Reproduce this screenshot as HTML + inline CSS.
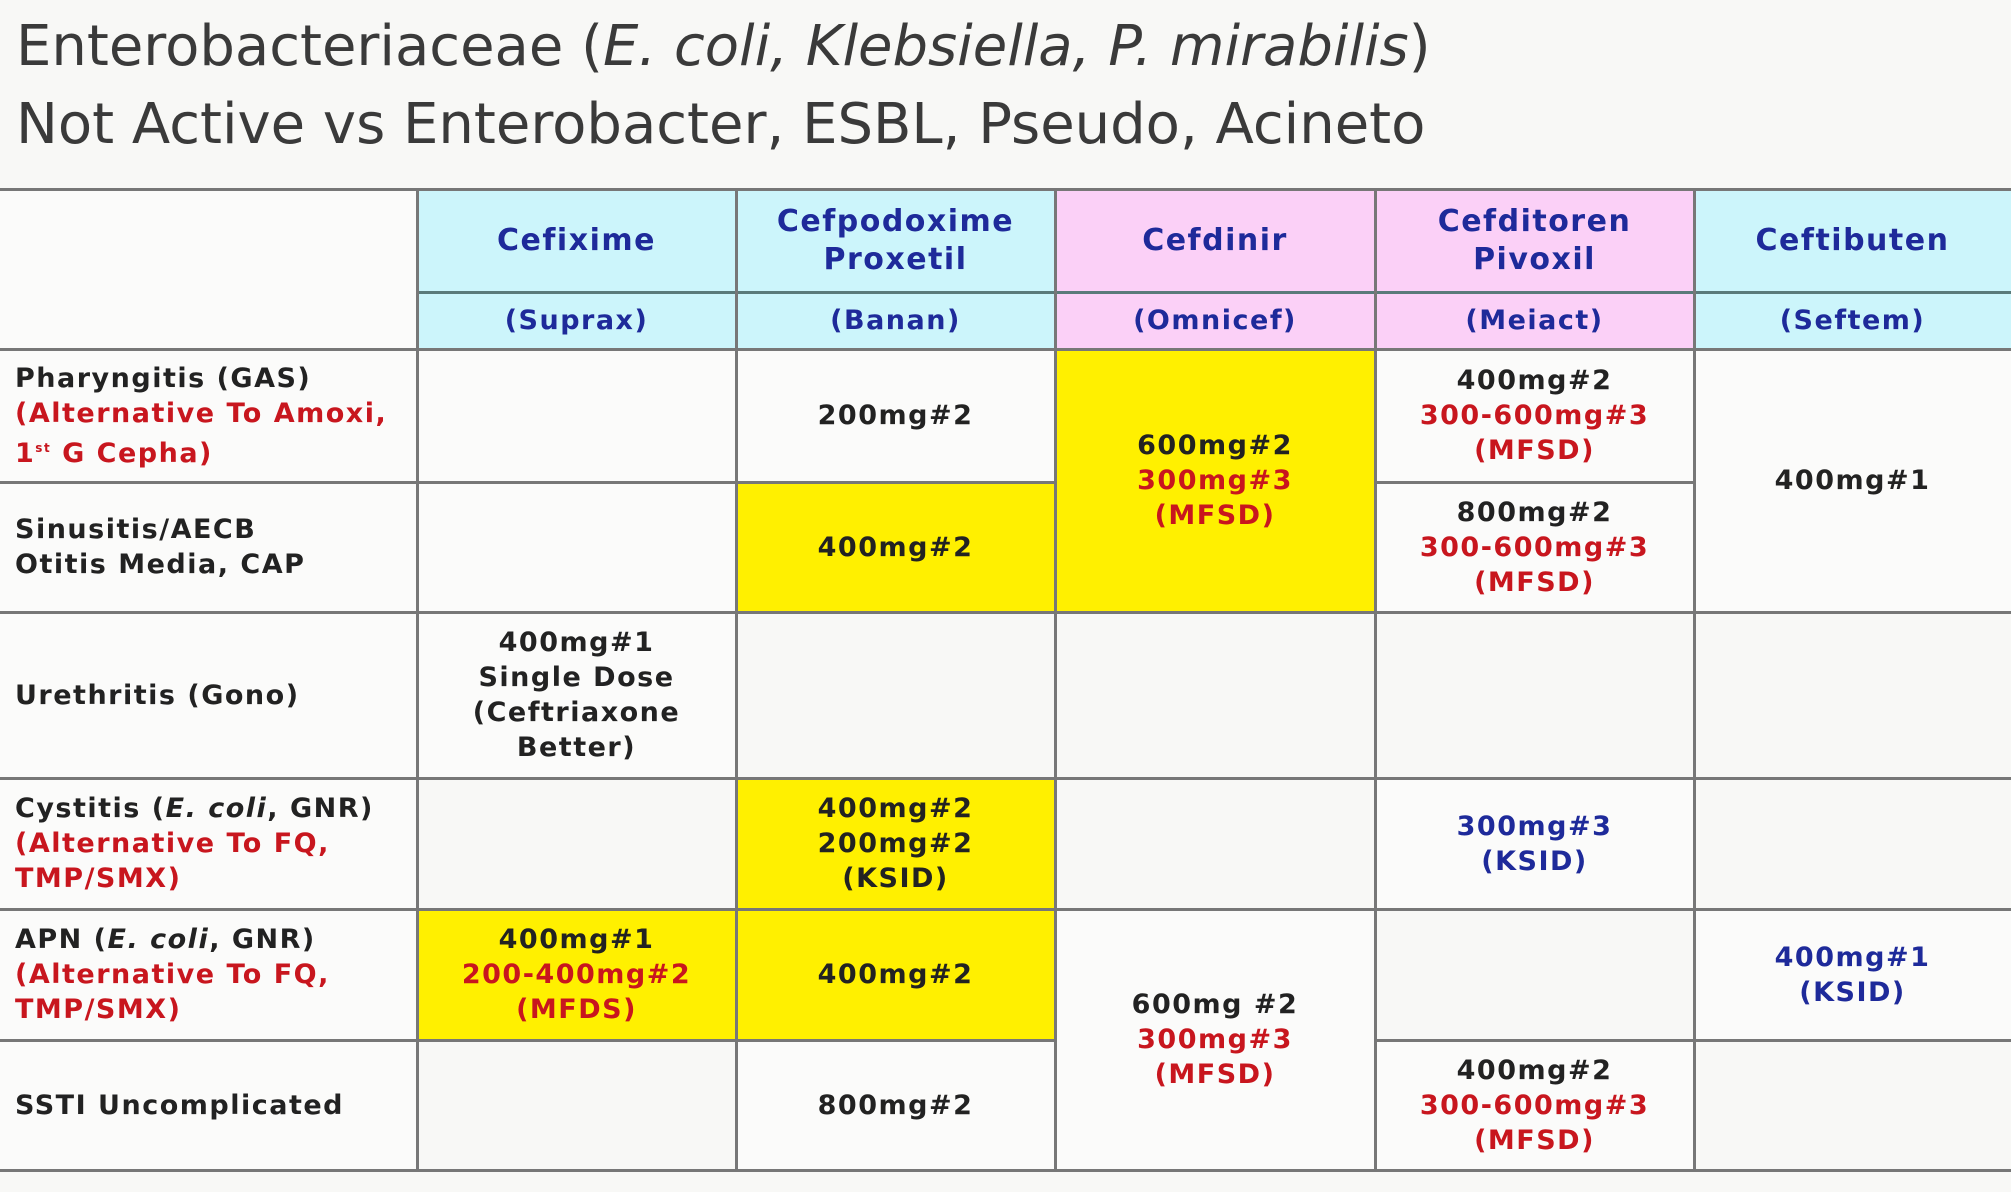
<!DOCTYPE html>
<html><head><meta charset="utf-8">
<style>
body{margin:0;width:2011px;height:1192px;background:#f8f8f6;overflow:hidden;font-family:"DejaVu Sans","Liberation Sans",sans-serif;position:relative}
.t{position:absolute;left:16px;font-size:56px;color:#3a3a3a;white-space:nowrap}
.c{position:absolute;box-sizing:border-box;display:flex;align-items:center;justify-content:center;text-align:center;font-weight:bold;font-size:27px;letter-spacing:1.5px;line-height:35px;color:#222;background:#fbfbfa}
.l{justify-content:flex-start;text-align:left;padding-left:15px}
.cy{background:#ccf5fb;color:#1e2a9a;font-size:30px;line-height:38px}
.pk{background:#fbd0f7;color:#1e2a9a;font-size:30px;line-height:38px}
.sm{font-size:27px}
.y{background:#fff000}
.r{color:#c8161e}.b{color:#1e2a9a}
.hl{position:absolute;left:0;width:2011px;height:3px;background:#777}
.vl{position:absolute;width:3px;background:#777}
</style></head><body>
<div class="t" style="top:14px">Enterobacteriaceae (<i>E. coli, Klebsiella, P. mirabilis</i>)</div>
<div class="t" style="top:92px">Not Active vs Enterobacter, ESBL, Pseudo, Acineto</div>

<div>
<div class="c" style="left:0;top:189px;width:417px;height:160px"></div>
<div class="c cy" style="left:417px;top:189px;width:319px;height:103px">Cefixime</div>
<div class="c cy" style="left:736px;top:189px;width:319px;height:103px">Cefpodoxime<br>Proxetil</div>
<div class="c pk" style="left:1055px;top:189px;width:320px;height:103px">Cefdinir</div>
<div class="c pk" style="left:1375px;top:189px;width:319px;height:103px">Cefditoren<br>Pivoxil</div>
<div class="c cy" style="left:1694px;top:189px;width:317px;height:103px">Ceftibuten</div>
<div class="c cy sm" style="left:417px;top:292px;width:319px;height:57px">(Suprax)</div>
<div class="c cy sm" style="left:736px;top:292px;width:319px;height:57px">(Banan)</div>
<div class="c pk sm" style="left:1055px;top:292px;width:320px;height:57px">(Omnicef)</div>
<div class="c pk sm" style="left:1375px;top:292px;width:319px;height:57px">(Meiact)</div>
<div class="c cy sm" style="left:1694px;top:292px;width:317px;height:57px">(Seftem)</div>

<div class="c l" style="left:0;top:349px;width:417px;height:133px"><div>Pharyngitis (GAS)<br><span class="r">(Alternative To Amoxi,<br>1<sup style="font-size:12px">st</sup> G Cepha)</span></div></div>
<div class="c" style="left:417px;top:349px;width:319px;height:133px"></div>
<div class="c" style="left:736px;top:349px;width:319px;height:133px">200mg#2</div>
<div class="c y" style="left:1055px;top:349px;width:320px;height:263px"><div>600mg#2<br><span class="r">300mg#3<br>(MFSD)</span></div></div>
<div class="c" style="left:1375px;top:349px;width:319px;height:133px"><div>400mg#2<br><span class="r">300-600mg#3<br>(MFSD)</span></div></div>
<div class="c" style="left:1694px;top:349px;width:317px;height:263px">400mg#1</div>

<div class="c l" style="left:0;top:482px;width:417px;height:130px"><div>Sinusitis/AECB<br>Otitis Media, CAP</div></div>
<div class="c" style="left:417px;top:482px;width:319px;height:130px"></div>
<div class="c y" style="left:736px;top:482px;width:319px;height:130px">400mg#2</div>
<div class="c" style="left:1375px;top:482px;width:319px;height:130px"><div>800mg#2<br><span class="r">300-600mg#3<br>(MFSD)</span></div></div>

<div class="c l" style="left:0;top:612px;width:417px;height:166px">Urethritis (Gono)</div>
<div class="c" style="left:417px;top:612px;width:319px;height:166px"><div>400mg#1<br>Single Dose<br>(Ceftriaxone<br>Better)</div></div>

<div class="c l" style="left:0;top:778px;width:417px;height:131px"><div>Cystitis (<i>E. coli</i>, GNR)<br><span class="r">(Alternative To FQ,<br>TMP/SMX)</span></div></div>
<div class="c y" style="left:736px;top:778px;width:319px;height:131px"><div>400mg#2<br>200mg#2<br>(KSID)</div></div>
<div class="c b" style="left:1375px;top:778px;width:319px;height:131px"><div>300mg#3<br>(KSID)</div></div>

<div class="c l" style="left:0;top:909px;width:417px;height:131px"><div>APN (<i>E. coli</i>, GNR)<br><span class="r">(Alternative To FQ,<br>TMP/SMX)</span></div></div>
<div class="c y" style="left:417px;top:909px;width:319px;height:131px"><div>400mg#1<br><span class="r">200-400mg#2<br>(MFDS)</span></div></div>
<div class="c y" style="left:736px;top:909px;width:319px;height:131px">400mg#2</div>
<div class="c" style="left:1055px;top:909px;width:320px;height:261px"><div>600mg #2<br><span class="r">300mg#3<br>(MFSD)</span></div></div>
<div class="c b" style="left:1694px;top:909px;width:317px;height:131px"><div>400mg#1<br>(KSID)</div></div>

<div class="c l" style="left:0;top:1040px;width:417px;height:130px">SSTI Uncomplicated</div>
<div class="c" style="left:736px;top:1040px;width:319px;height:130px">800mg#2</div>
<div class="c" style="left:1375px;top:1040px;width:319px;height:130px"><div>400mg#2<br><span class="r">300-600mg#3<br>(MFSD)</span></div></div>

<div class="hl" style="top:188px"></div>
<div class="hl" style="left:417px;width:1594px;top:291px;background:#5a7a7a"></div>
<div class="hl" style="top:348px"></div>
<div class="hl" style="top:481px;width:1055px"></div>
<div class="hl" style="top:481px;left:1375px;width:319px"></div>
<div class="hl" style="top:611px"></div>
<div class="hl" style="top:777px"></div>
<div class="hl" style="top:908px"></div>
<div class="hl" style="top:1039px;width:1055px"></div>
<div class="hl" style="top:1039px;left:1375px;width:636px"></div>
<div class="hl" style="top:1169px"></div>
<div class="vl" style="left:416px;top:189px;height:981px"></div>
<div class="vl" style="left:735px;top:189px;height:981px"></div>
<div class="vl" style="left:1054px;top:189px;height:981px"></div>
<div class="vl" style="left:1374px;top:189px;height:981px"></div>
<div class="vl" style="left:1693px;top:189px;height:981px"></div>
</div>
</body></html>
